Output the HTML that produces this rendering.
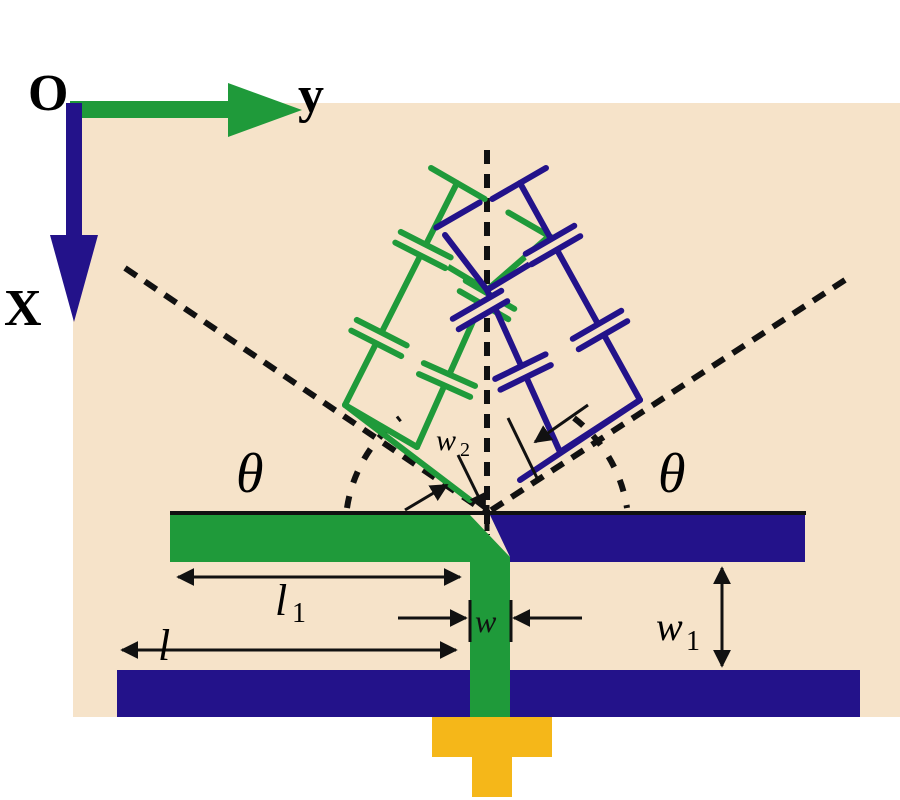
<!DOCTYPE html>
<html><head><meta charset="utf-8"><style>
html,body{margin:0;padding:0;background:#fff;}
svg{display:block}
text{font-family:"Liberation Serif",serif;}
</style></head><body>
<svg width="900" height="800" viewBox="0 0 900 800" xmlns="http://www.w3.org/2000/svg">
<defs>
<marker id="ah" viewBox="0 0 10 10" refX="9" refY="5" markerWidth="6" markerHeight="6" orient="auto-start-reverse"><path d="M0,0 L10,5 L0,10 z" fill="#111"/></marker>
</defs>
<rect x="73" y="103" width="827" height="614" fill="#f6e3c9"/>
<!-- axes -->
<rect x="70" y="101" width="165" height="17" fill="#1f9a3a"/>
<polygon points="228,83 302,110 228,137" fill="#1f9a3a"/>
<rect x="66" y="103" width="16" height="140" fill="#23128a"/>
<polygon points="50,235 98,235 74,322" fill="#23128a"/>
<text x="28" y="110" font-size="52" font-weight="bold">O</text>
<text x="298" y="112" font-size="52" font-weight="bold">y</text>
<text x="4" y="325" font-size="52" font-weight="bold">X</text>

<!-- dashed lines -->
<g stroke="#111" stroke-width="6" stroke-dasharray="14,10" fill="none">
<line x1="487" y1="150" x2="487" y2="535"/>
<line x1="125" y1="268" x2="487" y2="513"/>
<line x1="845" y1="280" x2="487" y2="513"/>
<path d="M347,508 A140,140 0 0 1 400,418" stroke-dasharray="12,14"/>
<path d="M574,418 A140,140 0 0 1 627,508" stroke-dasharray="12,14"/>
</g>

<!-- green ladder -->
<g stroke="#1f9a3a" stroke-width="6" fill="none" stroke-linecap="round">
<line x1="457" y1="183" x2="345" y2="405"/>
<line x1="345" y1="405" x2="417" y2="447"/>
<line x1="417" y1="447" x2="487" y2="290"/>
<line x1="487" y1="290" x2="548" y2="237"/>
<line x1="487" y1="290" x2="420" y2="250"/>
<line x1="345" y1="405" x2="470" y2="500"/>
</g>
<g stroke="#1f9a3a" stroke-width="6" stroke-linecap="round">
<g transform="translate(457,183) rotate(30)"><line x1="-30" y1="0" x2="32" y2="0"/></g>
<g transform="translate(423,250) rotate(27)"><rect x="-30" y="-4" width="60" height="8" fill="#f6e3c9" stroke="none"/><line x1="-28" y1="-6" x2="28" y2="-6"/><line x1="-28" y1="6" x2="28" y2="6"/></g>
<g transform="translate(379,338) rotate(27)"><rect x="-30" y="-4" width="60" height="8" fill="#f6e3c9" stroke="none"/><line x1="-28" y1="-6" x2="28" y2="-6"/><line x1="-28" y1="6" x2="28" y2="6"/></g>
<g transform="translate(447,380) rotate(24)"><rect x="-30" y="-4" width="60" height="8" fill="#f6e3c9" stroke="none"/><line x1="-28" y1="-6" x2="28" y2="-6"/><line x1="-28" y1="6" x2="28" y2="6"/></g>
<g transform="translate(487,300) rotate(30)"><rect x="-30" y="-4" width="60" height="8" fill="#f6e3c9" stroke="none"/><line x1="-28" y1="-6" x2="28" y2="-6"/><line x1="-28" y1="6" x2="28" y2="6"/></g>
<g transform="translate(530,225) rotate(30)"><line x1="-25" y1="0" x2="25" y2="0"/></g>
</g>

<!-- blue ladder -->
<g stroke="#23128a" stroke-width="6" fill="none" stroke-linecap="round">
<line x1="520" y1="183" x2="640" y2="400"/>
<line x1="640" y1="400" x2="560" y2="452"/>
<line x1="560" y1="452" x2="487" y2="290"/>
<line x1="487" y1="290" x2="445" y2="235"/>
<line x1="487" y1="290" x2="545" y2="255"/>
<line x1="640" y1="400" x2="520" y2="480"/>
</g>
<g stroke="#23128a" stroke-width="6" stroke-linecap="round">
<g transform="translate(520,183) rotate(-30)"><line x1="-32" y1="0" x2="30" y2="0"/></g>
<g transform="translate(553,245) rotate(-30)"><rect x="-30" y="-4" width="60" height="8" fill="#f6e3c9" stroke="none"/><line x1="-28" y1="-6" x2="28" y2="-6"/><line x1="-28" y1="6" x2="28" y2="6"/></g>
<g transform="translate(600,330) rotate(-30)"><rect x="-30" y="-4" width="60" height="8" fill="#f6e3c9" stroke="none"/><line x1="-28" y1="-6" x2="28" y2="-6"/><line x1="-28" y1="6" x2="28" y2="6"/></g>
<g transform="translate(523,372) rotate(-26)"><rect x="-30" y="-4" width="60" height="8" fill="#f6e3c9" stroke="none"/><line x1="-28" y1="-6" x2="28" y2="-6"/><line x1="-28" y1="6" x2="28" y2="6"/></g>
<g transform="translate(480,310) rotate(-30)"><rect x="-30" y="-4" width="60" height="8" fill="#f6e3c9" stroke="none"/><line x1="-28" y1="-6" x2="28" y2="-6"/><line x1="-28" y1="6" x2="28" y2="6"/></g>
<g transform="translate(458,215) rotate(-30)"><line x1="-25" y1="0" x2="25" y2="0"/></g>
</g>

<!-- w2 annotation -->
<g stroke="#111" stroke-width="3" fill="none">
<line x1="405" y1="510" x2="447" y2="485" marker-end="url(#ah)"/>
<line x1="458" y1="455" x2="485" y2="510" marker-end="url(#ah)"/>
<line x1="588" y1="405" x2="535" y2="442" marker-end="url(#ah)"/>
<line x1="508" y1="418" x2="538" y2="480"/>
</g>
<text x="436" y="450" font-size="30" font-style="italic">w</text><text x="460" y="456" font-size="20">2</text>

<!-- strips -->
<polygon points="170,515 470,515 510,557 510,717 470,717 470,562 170,562" fill="#1f9a3a"/>
<polygon points="490,515 805,515 805,562 510,562 510,557" fill="#23128a"/>
<rect x="117" y="670" width="353" height="47" fill="#23128a"/>
<rect x="510" y="670" width="350" height="47" fill="#23128a"/>
<line x1="170" y1="513" x2="806" y2="513" stroke="#111" stroke-width="4"/>
<line x1="487" y1="505" x2="487" y2="535" stroke="#111" stroke-width="5" stroke-dasharray="10,6"/>
<!-- feed -->
<rect x="432" y="717" width="120" height="40" fill="#f5b719"/>
<rect x="472" y="757" width="40" height="40" fill="#f5b719"/>

<!-- dimensions -->
<g stroke="#111" stroke-width="3" fill="none">
<line x1="178" y1="577" x2="460" y2="577" marker-start="url(#ah)" marker-end="url(#ah)"/>
<line x1="122" y1="650" x2="456" y2="650" marker-start="url(#ah)" marker-end="url(#ah)"/>
<line x1="398" y1="618" x2="466" y2="618" marker-end="url(#ah)"/>
<line x1="582" y1="618" x2="514" y2="618" marker-end="url(#ah)"/>
<line x1="722" y1="568" x2="722" y2="666" marker-start="url(#ah)" marker-end="url(#ah)"/>
<line x1="470" y1="600" x2="470" y2="642"/>
<line x1="511" y1="600" x2="511" y2="642"/>
</g>
<text x="236" y="492" font-size="56" font-style="italic">θ</text>
<text x="658" y="492" font-size="56" font-style="italic">θ</text>
<text x="275" y="615" font-size="44" font-style="italic">l</text><text x="292" y="622" font-size="28">1</text>
<text x="158" y="660" font-size="44" font-style="italic">l</text>
<text x="475" y="632" font-size="32" font-style="italic" fill="#111">w</text>
<text x="656" y="640" font-size="40" font-style="italic">w</text><text x="686" y="650" font-size="28">1</text>
</svg>
</body></html>
